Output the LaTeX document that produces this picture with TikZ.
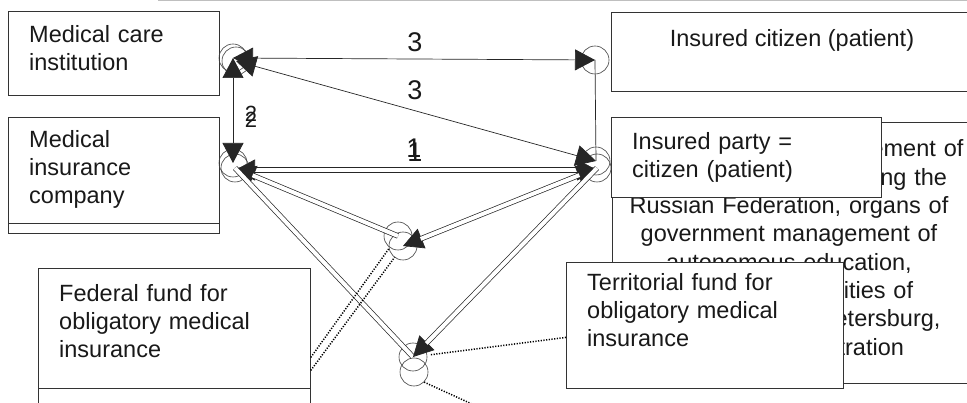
\documentclass[tikz,border=0pt]{standalone}
\usepackage{fontspec}
\setmainfont{Liberation Sans}
\usetikzlibrary{arrows.meta}
\begin{document}
\begin{tikzpicture}[x=1pt,y=-1pt,
  >={Triangle[length=20pt,width=21pt]},
  box/.style={draw=black!80, fill=white, line width=0.8pt, inner sep=0pt, rectangle, anchor=north west},
  txt/.style={inner sep=0pt, text=black!90, font=\fontsize{23.5}{28}\selectfont, align=left, text width=#1, anchor=base west},
  txt/.default=300pt,
  txtc/.style={inner sep=0pt, text=black!90, font=\fontsize{23.5}{28.3}\selectfont, align=center, text width=#1, anchor=base},
  lab/.style={inner sep=0pt, text=black!90, font=\fontsize{23.5}{28}\selectfont, anchor=base},
  num/.style={inner sep=0pt, text=black!90, font=\fontsize{27}{30}\selectfont, anchor=center},
  circ/.style={circle, draw=black!75, line width=0.6pt, minimum size=28pt, inner sep=0pt},
  conn/.style={draw=black!85, line width=0.7pt},
  dbl/.style={draw=black!85, line width=0.7pt, double=white, double distance=4pt},
  dots/.style={draw=black, line width=1.5pt, dash pattern=on 1.2pt off 1.5pt}
]
\useasboundingbox (0,0) rectangle (967,403);
\clip (0,0) rectangle (967,403);
\fill[white] (0,0) rectangle (967,403);
\draw[black!25, line width=1pt] (158,1) -- (967,1);

% big right box (partly hidden)
\node[box, minimum width=370pt, minimum height=261pt] (D) at (612,122) {};
\node[txtc=380pt] (Dt) at (789,157) {Organs of health management of\\of the subjects comprising the\\Russian Federation, organs of\\government management of\\autonomous education,\\and the federal cities of\\Moscow and St. Petersburg,\\the city administration};

% boxes
\node[box, minimum width=211pt, minimum height=84pt] (A) at (8,11) {};
\node[txt] (At) at (29,43) {Medical care\\institution};

\node[box, minimum width=211pt, minimum height=10pt] (B2) at (8,223) {};
\node[box, minimum width=211pt, minimum height=106pt] (B) at (8,117) {};
\node[txt] (Bt) at (29,148) {Medical\\insurance\\company};

\node[box, minimum width=370pt, minimum height=79pt] (C) at (611,12) {};
\node[lab] (Ct) at (792,47) {Insured citizen (patient)};

\node[box, minimum width=270pt, minimum height=80pt] (E) at (611,117) {};
\node[txt] (Et) at (632,150) {Insured party =\\citizen (patient)};

\node[box, minimum width=272pt, minimum height=30pt] (F2) at (38,388) {};
\node[box, minimum width=272pt, minimum height=120pt] (F) at (38,268) {};
\node[txt] (Ft) at (59,302) {Federal fund for\\obligatory medical\\insurance};

\node[box, minimum width=277pt, minimum height=126pt] (G) at (566,262) {};
\node[txt] (Gt) at (587,291) {Territorial fund for\\obligatory medical\\insurance};

% circles
\node[circ] (c1) at (233,58) {};
\node[circ] (c1b) at (236,61) {};
\node[circ] (c2) at (233,163) {};
\node[circ] (c2b) at (235,168) {};
\node[circ] (c3) at (595,60) {};
\node[circ] (c4) at (596,161) {};
\node[circ] (c4b) at (597,168) {};
\node[circ] (c5) at (398,236) {};
\node[circ] (c5b) at (403,246) {};
\node[circ] (c6) at (413,357) {};
\node[circ] (c6b) at (414,372) {};

% single connectors
\draw[conn,<->] (c1.center) -- (c3.center);
\draw[conn,<->] (c1b.center) -- (c4.center);
\draw[conn,<->] (c1.center) -- (c2.center);
\draw[conn] (c3.center) -- (c4.center);

% double connectors
\draw[conn,<->] ([yshift=-2pt]c2b.center) -- ([yshift=-2pt]c4b.center);
\draw[dbl, shorten <=19pt, shorten >=19pt] ([yshift=-2pt]c2b.center) -- ([yshift=-2pt]c4b.center);

\draw[conn,<-] (c2b.center) -- (c5.center);
\draw[dbl, shorten <=19pt] (c2b.center) -- (c5.center);

\draw[conn,<->] (c4b.center) -- (c5b.center);
\draw[dbl, shorten <=19pt, shorten >=19pt] (c4b.center) -- (c5b.center);

\draw[conn] (c2b.center) -- (c6.center);
\draw[dbl] (c2b.center) -- (c6.center);

\draw[conn,->] (c4b.center) -- (c6.center);
\draw[dbl, shorten >=19pt] (c4b.center) -- (c6.center);

% dotted connectors
\draw[dots, shorten >=16pt] ([yshift=-29pt]F.east) -- (c5.center);
\draw[dots, shorten >=14pt] ([yshift=-42pt]F.east) -- (c5b.center);
\draw[dots, shorten >=17pt] ([yshift=-12pt]G.west) -- (c6.center);
\coordinate (dfree) at (474,405);
\draw[dots] (c6b.-45) -- (dfree);

% labels
\node[num] (n3a) at (415,42) {3};
\node[num] (n3b) at (415,90) {3};
\node[num] (n1a) at (414,148) {1};
\node[num] (n1b) at (415,152) {1};
\node[num, font=\fontsize{22}{26}\selectfont] (n2a) at (251,114) {2};
\node[num, font=\fontsize{22}{26}\selectfont] (n2b) at (251,120) {2};
\end{tikzpicture}
\end{document}
